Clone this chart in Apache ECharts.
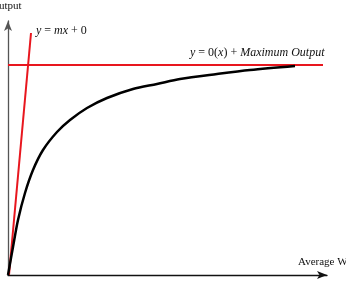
<!DOCTYPE html>
<html>
<head>
<meta charset="utf-8">
<script src="https://cdn.jsdelivr.net/npm/echarts@6/dist/echarts.min.js"></script>
<style>
  html, body { margin: 0; padding: 0; background: #fff; }
  #main { width: 346px; height: 281px; }
</style>
</head>
<body>
<div id="main"></div>
<script>
// values (x: average W, y: output, arbitrary units)
var xMax = 319;
var yMax = 254;
var maxOutput = 210;
var curveX = [0, 5, 10, 17, 25, 35, 49, 62, 79, 99, 125, 149, 172, 209, 242, 287];
var curveY = [0, 28, 55, 82, 105, 125, 143, 155, 167, 177, 186, 191, 196, 201, 205, 209];
var slopeX = [1, 23];
var slopeY = [0, 242];
var flatX = [0, 315];

var serif = "'Liberation Serif', 'DejaVu Serif', serif";

function pairs(xs, ys) {
    var out = [];
    for (var i = 0; i < xs.length; i++) {
        out.push([xs[i], ys[i]]);
    }
    return out;
}

var chart = echarts.init(document.getElementById('main'));
chart.setOption({
    animation: false,
    backgroundColor: '#fff',
    grid: { left: 8, right: 19, top: 21, bottom: 6 },
    xAxis: {
        type: 'value', min: 0, max: xMax,
        splitLine: { show: false }, axisTick: { show: false }, axisLabel: { show: false },
        axisLine: { lineStyle: { color: '#111', width: 1.3 }, symbol: ['none', 'arrow'], symbolSize: [6, 10] }
    },
    yAxis: {
        type: 'value', min: 0, max: yMax,
        splitLine: { show: false }, axisTick: { show: false }, axisLabel: { show: false },
        axisLine: { lineStyle: { color: '#555', width: 1.3 }, symbol: ['none', 'arrow'], symbolSize: [6, 10] }
    },
    series: [
        {
            type: 'line', data: pairs(flatX, [maxOutput, maxOutput]), showSymbol: false,
            lineStyle: { color: '#e8161e', width: 2 }
        },
        {
            type: 'line', data: pairs(slopeX, slopeY), showSymbol: false,
            lineStyle: { color: '#e8161e', width: 2 }
        },
        {
            type: 'line', data: pairs(curveX, curveY), showSymbol: false, smooth: 0.3,
            lineStyle: { color: '#000', width: 2.5 }
        }
    ],
    graphic: [
        {
            type: 'text', left: -9, top: 1,
            style: { text: 'Output', font: '11px ' + serif, fill: '#111' }
        },
        {
            type: 'text', left: 298, top: 257,
            style: { text: 'Average W', font: '11px ' + serif, fill: '#111' }
        },
        {
            type: 'text', left: 36, top: 25,
            style: {
                text: '{i|y} = {i|mx} + 0',
                font: '12px ' + serif, fill: '#111',
                rich: { i: { fontStyle: 'italic', fontFamily: serif, fontSize: 12 } }
            }
        },
        {
            type: 'text', left: 190, top: 47,
            style: {
                text: '{i|y} = 0({i|x}) + {i|Maximum Output}',
                font: '12px ' + serif, fill: '#111',
                rich: { i: { fontStyle: 'italic', fontFamily: serif, fontSize: 12 } }
            }
        }
    ]
});
</script>
</body>
</html>
